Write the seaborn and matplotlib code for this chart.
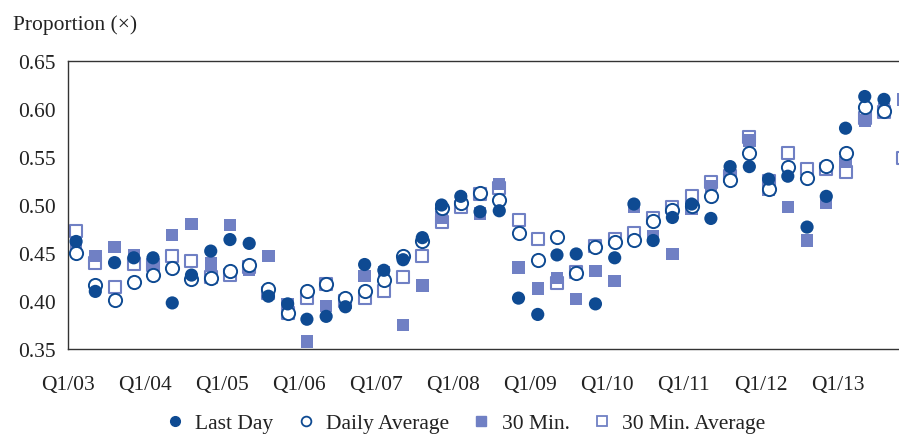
import numpy as np
import pandas as pd
import matplotlib
matplotlib.use("Agg")
import matplotlib.pyplot as plt
from matplotlib.lines import Line2D
import seaborn as sns

quarters = [f"Q{q}/{y:02d}" for y in range(3, 14) for q in range(1, 5)]
tick_labels = ["Q1/03", "Q1/04", "Q1/05", "Q1/06", "Q1/07", "Q1/08",
               "Q1/09", "Q1/10", "Q1/11", "Q1/12", "Q1/13"]

last_day = [0.462, 0.410, 0.440, 0.445, 0.445, 0.398, 0.427, 0.452, 0.464, 0.460,
            0.405, 0.397, 0.381, 0.384, 0.394, 0.438, 0.432, 0.443, 0.466, 0.500,
            0.509, 0.493, 0.494, 0.403, 0.386, 0.448, 0.449, 0.397, 0.445, 0.501,
            0.463, 0.487, 0.501, 0.486, 0.540, 0.540, 0.527, 0.530, 0.477, 0.509,
            0.580, 0.613, 0.610, np.nan]
daily_avg = [0.450, 0.417, 0.401, 0.420, 0.427, 0.434, 0.423, 0.424, 0.431, 0.437,
             0.412, 0.387, 0.410, 0.418, 0.403, 0.410, 0.422, 0.447, 0.463, 0.497,
             0.502, 0.512, 0.505, 0.471, 0.443, 0.467, 0.429, 0.456, 0.461, 0.464,
             0.483, 0.495, 0.499, 0.509, 0.526, 0.554, 0.517, 0.540, 0.528, 0.541,
             0.554, 0.602, 0.598, np.nan]
min30 = [0.460, 0.447, 0.456, 0.448, 0.434, 0.469, 0.480, 0.439, 0.479, 0.433,
         0.447, 0.397, 0.358, 0.395, 0.398, 0.426, 0.430, 0.375, 0.416, 0.487,
         0.506, 0.491, 0.522, 0.435, 0.413, 0.424, 0.402, 0.431, 0.421, 0.498,
         0.467, 0.449, 0.496, 0.520, 0.535, 0.567, 0.516, 0.498, 0.463, 0.502,
         0.545, 0.588, 0.600, 0.610]
min30_avg = [0.473, 0.440, 0.415, 0.439, 0.438, 0.447, 0.442, 0.425, 0.427, 0.435,
             0.408, 0.387, 0.403, 0.418, 0.400, 0.403, 0.410, 0.425, 0.447, 0.482,
             0.498, 0.511, 0.518, 0.484, 0.465, 0.419, 0.430, 0.457, 0.465, 0.471,
             0.486, 0.498, 0.509, 0.524, 0.530, 0.571, 0.525, 0.554, 0.538, 0.538,
             0.534, 0.591, 0.597, 0.549]

dark = "#0e4a92"
light = "#7080c4"

df = pd.DataFrame({
    "q": np.arange(len(quarters)) + 0.42,
    "Last Day": last_day,
    "Daily Average": daily_avg,
    "30 Min.": min30,
    "30 Min. Average": min30_avg,
})

sns.set_style("white")
plt.rcParams["font.family"] = ["Liberation Serif", "DejaVu Serif"]
fs = 15.5

fig = plt.figure(figsize=(8.99, 4.35), dpi=100)
ax = fig.add_axes([68 / 899, 1 - 350 / 435, 1 - 68 / 899, (350 - 62) / 435])

sns.scatterplot(data=df, x="q", y="30 Min. Average", ax=ax, marker="s", s=80,
                facecolor="white", edgecolor=light, linewidth=1.5, zorder=2)
sns.scatterplot(data=df, x="q", y="30 Min.", ax=ax, marker="s", s=80,
                color=light, edgecolor="none", linewidth=0, zorder=3)
sns.scatterplot(data=df, x="q", y="Daily Average", ax=ax, marker="o", s=90,
                facecolor="white", edgecolor=dark, linewidth=1.4, zorder=4)
sns.scatterplot(data=df, x="q", y="Last Day", ax=ax, marker="o", s=90,
                color=dark, edgecolor="none", linewidth=0, zorder=5)

ax.set_xlim(0, 43.2)
ax.set_ylim(0.35, 0.65)
ax.set_xticks(np.arange(0, 41, 4))
ax.set_xticklabels(tick_labels)
ax.set_yticks([0.35, 0.40, 0.45, 0.50, 0.55, 0.60, 0.65])
ax.set_yticklabels([f"{v:.2f}" for v in [0.35, 0.40, 0.45, 0.50, 0.55, 0.60, 0.65]])
ax.set_xlabel("")
ax.set_ylabel("")
for side in ["left", "bottom", "top"]:
    ax.spines[side].set_visible(True)
    ax.spines[side].set_color("#333333")
    ax.spines[side].set_linewidth(1.0)
ax.spines["right"].set_visible(False)
ax.tick_params(axis="both", direction="in", length=5, width=1, color="#333333",
               labelsize=fs, labelcolor="#222222")
ax.tick_params(axis="x", pad=19)
ax.tick_params(axis="y", pad=9)

fig.text(13 / 899, 1 - 25 / 435, "Proportion (×)", fontsize=fs,
         color="#222222", va="center", ha="left")

handles = [
    Line2D([], [], marker="o", linestyle="", markersize=7, markerfacecolor=dark,
           markeredgecolor=dark, label="Last Day"),
    Line2D([], [], marker="o", linestyle="", markersize=7, markerfacecolor="white",
           markeredgecolor=dark, markeredgewidth=1.3, label="Daily Average"),
    Line2D([], [], marker="s", linestyle="", markersize=7, markerfacecolor=light,
           markeredgecolor=light, label="30 Min."),
    Line2D([], [], marker="s", linestyle="", markersize=7, markerfacecolor="white",
           markeredgecolor=light, markeredgewidth=1.3, label="30 Min. Average"),
]
fig.legend(handles=handles, loc="center", bbox_to_anchor=(0.517, 1 - 424 / 435),
           ncol=4, frameon=False, fontsize=fs, handletextpad=0.45,
           columnspacing=1.0, handlelength=1.0, labelcolor="#222222")

fig.savefig("out.png", dpi=100)
